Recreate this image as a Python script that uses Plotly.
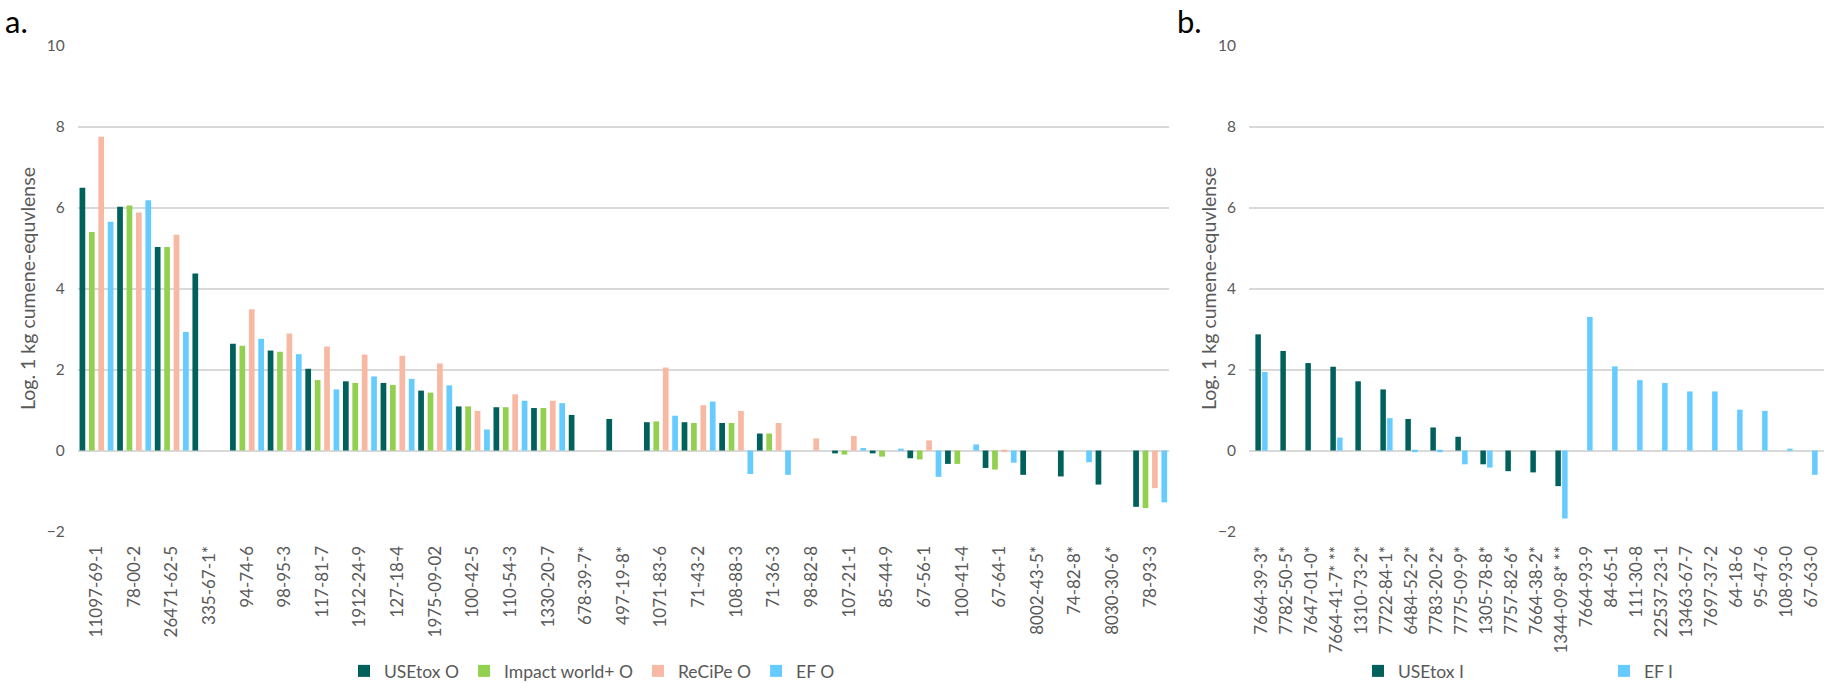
import plotly.graph_objects as go

# ---------------- data ----------------
cats_a = ["11097-69-1", "78-00-2", "26471-62-5", "335-67-1*", "94-74-6", "98-95-3",
          "117-81-7", "1912-24-9", "127-18-4", "1975-09-02", "100-42-5", "110-54-3",
          "1330-20-7", "678-39-7*", "497-19-8*", "1071-83-6", "71-43-2", "108-88-3",
          "71-36-3", "98-82-8", "107-21-1", "85-44-9", "67-56-1", "100-41-4", "67-64-1",
          "8002-43-5*", "74-82-8*", "8030-30-6*", "78-93-3"]
usetox_o = [6.49, 6.02, 5.03, 4.37, 2.64, 2.47, 2.02, 1.71, 1.67, 1.48, 1.09, 1.07,
            1.05, 0.88, 0.78, 0.70, 0.70, 0.68, 0.42, None, -0.07, -0.07, -0.19, -0.33,
            -0.43, -0.60, -0.64, -0.84, -1.39]
impact_o = [5.40, 6.05, 5.03, None, 2.59, 2.44, 1.74, 1.67, 1.62, 1.43, 1.09, 1.07,
            1.05, None, None, 0.72, 0.68, 0.68, 0.42, None, -0.10, -0.15, -0.22, -0.33,
            -0.47, None, None, None, -1.42]
recipe_o = [7.75, 5.88, 5.33, None, 3.49, 2.89, 2.57, 2.37, 2.34, 2.15, 0.98, 1.39,
            1.23, None, None, 2.05, 1.12, 0.98, 0.68, 0.30, 0.36, None, 0.25, None,
            -0.04, None, None, None, -0.93]
ef_o = [5.65, 6.18, 2.93, None, 2.76, 2.38, 1.51, 1.83, 1.77, 1.61, 0.52, 1.23,
        1.17, None, None, 0.86, 1.21, -0.58, -0.60, None, 0.06, 0.04, -0.65, 0.15,
        -0.30, None, -0.29, None, -1.28]

cats_b = ["7664-39-3*", "7782-50-5*", "7647-01-0*", "7664-41-7* **", "1310-73-2*",
          "7722-84-1*", "6484-52-2*", "7783-20-2*", "7775-09-9*", "1305-78-8*",
          "7757-82-6*", "7664-38-2*", "1344-09-8* **", "7664-93-9", "84-65-1",
          "111-30-8", "22537-23-1", "13463-67-7", "7697-37-2", "64-18-6", "95-47-6",
          "108-93-0", "67-63-0"]
usetox_i = [2.87, 2.46, 2.16, 2.07, 1.71, 1.51, 0.78, 0.57, 0.34, -0.34, -0.51, -0.54,
            -0.88, None, None, None, None, None, None, None, None, None, None]
ef_i = [1.94, None, None, 0.32, None, 0.80, -0.04, -0.04, -0.34, -0.42, None, None,
        -1.68, 3.30, 2.08, 1.74, 1.67, 1.46, 1.46, 1.01, 0.98, 0.04, -0.60]

series_a = ["USEtox O", "Impact world+ O", "ReCiPe O", "EF O"]
series_b = ["USEtox I", "EF I"]
y_ticks = [-2, 0, 2, 4, 6, 8, 10]
y_title = "Log. 1 kg cumene-equvlense"

# ---------------- styling ----------------
C_USE = "#00605C"
C_IW = "#92D050"
C_REC = "#F8B9A4"
C_EF = "#66CCFF"
GRID = "#D9D9D9"
TXT = "#595959"
FONT = "Lato"

W, H = 1824, 683


def px_x(p):
    return p / W


def px_y(p):
    return 1 - p / H


fig = go.Figure()

# panel a: 4 bars per category, evenly spaced slots
slot = 0.25
bw_a = 0.152
for i, (name, vals, col) in enumerate(zip(series_a, [usetox_o, impact_o, recipe_o, ef_o],
                                          [C_USE, C_IW, C_REC, C_EF])):
    fig.add_trace(go.Bar(
        x=cats_a, y=vals, name=name, marker_color=col, marker_line_width=0,
        width=bw_a, offset=-0.5 + slot * i + (slot - bw_a) / 2,
        xaxis="x", yaxis="y", legend="legend"))

# panel b: 2 adjacent bars per category
bw_b = 0.22
sep_b = 0.27
for i, (name, vals, col) in enumerate(zip(series_b, [usetox_i, ef_i], [C_USE, C_EF])):
    center = -sep_b / 2 + sep_b * i
    fig.add_trace(go.Bar(
        x=cats_b, y=vals, name=name, marker_color=col, marker_line_width=0,
        width=bw_b, offset=center - bw_b / 2,
        xaxis="x2", yaxis="y2", legend="legend2"))

dom_y = [px_y(531.5), px_y(45.7)]
xa_common = dict(type="category", tickangle=-90, showgrid=False, zeroline=False,
                 showline=False, ticks="", ticklabelstandoff=10,
                 tickfont=dict(family=FONT, size=17, color=TXT), fixedrange=True)
ya_common = dict(range=[-2, 10], tickvals=y_ticks, showgrid=True, gridcolor=GRID,
                 gridwidth=1.5, zeroline=True, zerolinecolor=GRID, zerolinewidth=1.5,
                 showline=False, ticks="", ticklabelstandoff=12,
                 tickfont=dict(family=FONT, size=15.5, color=TXT), domain=dom_y)

fig.update_layout(
    width=W, height=H, autosize=False,
    margin=dict(l=0, r=0, t=0, b=0, autoexpand=False),
    paper_bgcolor="white", plot_bgcolor="white",
    barmode="group",
    xaxis=dict(domain=[px_x(77.7), px_x(1169)], range=[-0.5, len(cats_a) - 0.5],
               anchor="y", **xa_common),
    yaxis=dict(anchor="x", **ya_common),
    xaxis2=dict(domain=[px_x(1249), 1.0], range=[-0.5, len(cats_b) - 0.5],
                anchor="y2", **xa_common),
    yaxis2=dict(anchor="x2", **ya_common),
    legend=dict(orientation="h", x=px_x(592), xanchor="center", y=px_y(671),
                yanchor="middle", font=dict(family=FONT, size=17.5, color=TXT),
                bgcolor="rgba(0,0,0,0)", itemwidth=30, traceorder="normal"),
    legend2=dict(orientation="h", x=px_x(1358), xanchor="left", y=px_y(671),
                 yanchor="middle", font=dict(family=FONT, size=17.5, color=TXT),
                 bgcolor="rgba(0,0,0,0)", itemwidth=30, entrywidth=201,
                 entrywidthmode="pixels", traceorder="normal"),
    showlegend=True,
    annotations=[
        dict(text="a.", x=px_x(3), y=1.0, xref="paper", yref="paper",
             xanchor="left", yanchor="top", showarrow=False,
             font=dict(family=FONT, size=31, color="black")),
        dict(text="b.", x=px_x(1175), y=1.0, xref="paper", yref="paper",
             xanchor="left", yanchor="top", showarrow=False,
             font=dict(family=FONT, size=31, color="black")),
        dict(text=y_title, x=px_x(28), y=px_y(289), xref="paper", yref="paper",
             xanchor="center", yanchor="middle", textangle=-90, showarrow=False,
             font=dict(family=FONT, size=19.5, color=TXT)),
        dict(text=y_title, x=px_x(1209), y=px_y(289), xref="paper", yref="paper",
             xanchor="center", yanchor="middle", textangle=-90, showarrow=False,
             font=dict(family=FONT, size=19.5, color=TXT)),
    ],
)

fig.write_html("out.html")
